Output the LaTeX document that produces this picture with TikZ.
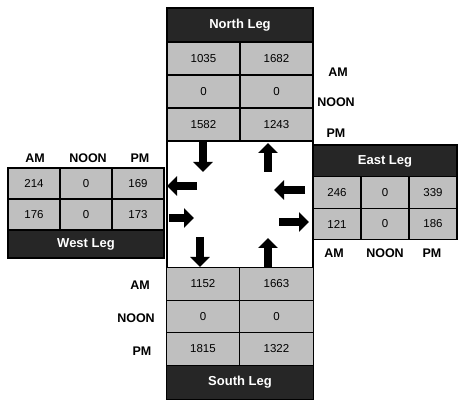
\documentclass[tikz,border=0pt]{standalone}
\usepackage{fontspec}
\setmainfont{Liberation Sans}
\usetikzlibrary{arrows.meta}
\begin{document}
\begin{tikzpicture}[x=1pt,y=-1pt,
  cellbox/.style={draw=black, line width=1.3pt, fill=gray!50, inner sep=0pt, font=\fontsize{11.5}{11.5}\selectfont},
  headbox/.style={draw=black, line width=1.3pt, fill=black!85, text=white, inner sep=0pt, font=\bfseries\fontsize{13}{13}\selectfont},
  lbl/.style={font=\bfseries\fontsize{12.5}{12.5}\selectfont, inner sep=0pt},
  flow/.style={line width=8pt, -{Triangle[width=19pt,length=10pt]}}]
\useasboundingbox (0,0) rectangle (458,403);
% central box
\node[draw=black, line width=1.3pt, minimum width=146pt, minimum height=128pt, inner sep=0pt] (center) at (240,204) {};
% North leg
\tikzset{ncell/.style={cellbox, minimum width=73pt, minimum height=33pt}}
\node[headbox, minimum width=146pt, minimum height=34pt] (nh) at (240,25) {North Leg};
\node[ncell] (n11) at (203.5,58.5) {1035};
\node[ncell] (n12) at (276.5,58.5) {1682};
\node[ncell] (n21) at (203.5,91.5) {0};
\node[ncell] (n22) at (276.5,91.5) {0};
\node[ncell] (n31) at (203.5,124.5) {1582};
\node[ncell] (n32) at (276.5,124.5) {1243};
\node[lbl] (nam) at (338,72) {AM};
\node[lbl] (nnoon) at (336,102) {NOON};
\node[lbl] (npm) at (336,133) {PM};
% East leg
\tikzset{ecell/.style={cellbox, minimum width=48pt, minimum height=31.5pt}}
\node[headbox, minimum width=144pt, minimum height=32pt] (eh) at (385,161) {East Leg};
\node[ecell] (e11) at (337,192.5) {246};
\node[ecell] (e12) at (385,192.5) {0};
\node[ecell] (e13) at (433,192.5) {339};
\node[ecell] (e21) at (337,224) {121};
\node[ecell] (e22) at (385,224) {0};
\node[ecell] (e23) at (433,224) {186};
\node[lbl] (eam) at (334,253) {AM};
\node[lbl] (enoon) at (385,253) {NOON};
\node[lbl] (epm) at (432,253) {PM};
% West leg
\tikzset{wcell/.style={cellbox, minimum width=52pt, minimum height=31pt}}
\node[wcell] (w11) at (34,183.5) {214};
\node[wcell] (w12) at (86,183.5) {0};
\node[wcell] (w13) at (138,183.5) {169};
\node[wcell] (w21) at (34,214.5) {176};
\node[wcell] (w22) at (86,214.5) {0};
\node[wcell] (w23) at (138,214.5) {173};
\node[headbox, minimum width=156pt, minimum height=28pt] (wh) at (86,244) {West Leg};
\node[lbl] (wam) at (35,158) {AM};
\node[lbl] (wnoon) at (88,158) {NOON};
\node[lbl] (wpm) at (140,158) {PM};
% South leg
\tikzset{scell/.style={cellbox, minimum width=73.5pt, minimum height=32.5pt}}
\node[scell] (s11) at (203,284) {1152};
\node[scell] (s12) at (276.5,284) {1663};
\node[scell] (s21) at (203,316.5) {0};
\node[scell] (s22) at (276.5,316.5) {0};
\node[scell] (s31) at (203,349) {1815};
\node[scell] (s32) at (276.5,349) {1322};
\node[headbox, minimum width=147pt, minimum height=34pt] (sh) at (240,382.5) {South Leg};
\node[lbl] (sam) at (140,285) {AM};
\node[lbl] (snoon) at (136,318) {NOON};
\node[lbl] (spm) at (142,351) {PM};
% arrows
\coordinate (nd1) at (203,141); \coordinate (nd2) at (203,172);
\coordinate (nu1) at (268,172); \coordinate (nu2) at (268,143);
\coordinate (wl1) at (197,186); \coordinate (wl2) at (167,186);
\coordinate (wr1) at (169,218); \coordinate (wr2) at (194,218);
\coordinate (el1) at (305,190); \coordinate (el2) at (274,190);
\coordinate (er1) at (279,222); \coordinate (er2) at (309,222);
\coordinate (sd1) at (200,237); \coordinate (sd2) at (200,267);
\coordinate (su1) at (268,267); \coordinate (su2) at (268,238);
\draw[flow] (nd1) -- (nd2);
\draw[flow] (nu1) -- (nu2);
\draw[flow] (wl1) -- (wl2);
\draw[flow] (wr1) -- (wr2);
\draw[flow] (el1) -- (el2);
\draw[flow] (er1) -- (er2);
\draw[flow] (sd1) -- (sd2);
\draw[flow] (su1) -- (su2);
\end{tikzpicture}
\end{document}
